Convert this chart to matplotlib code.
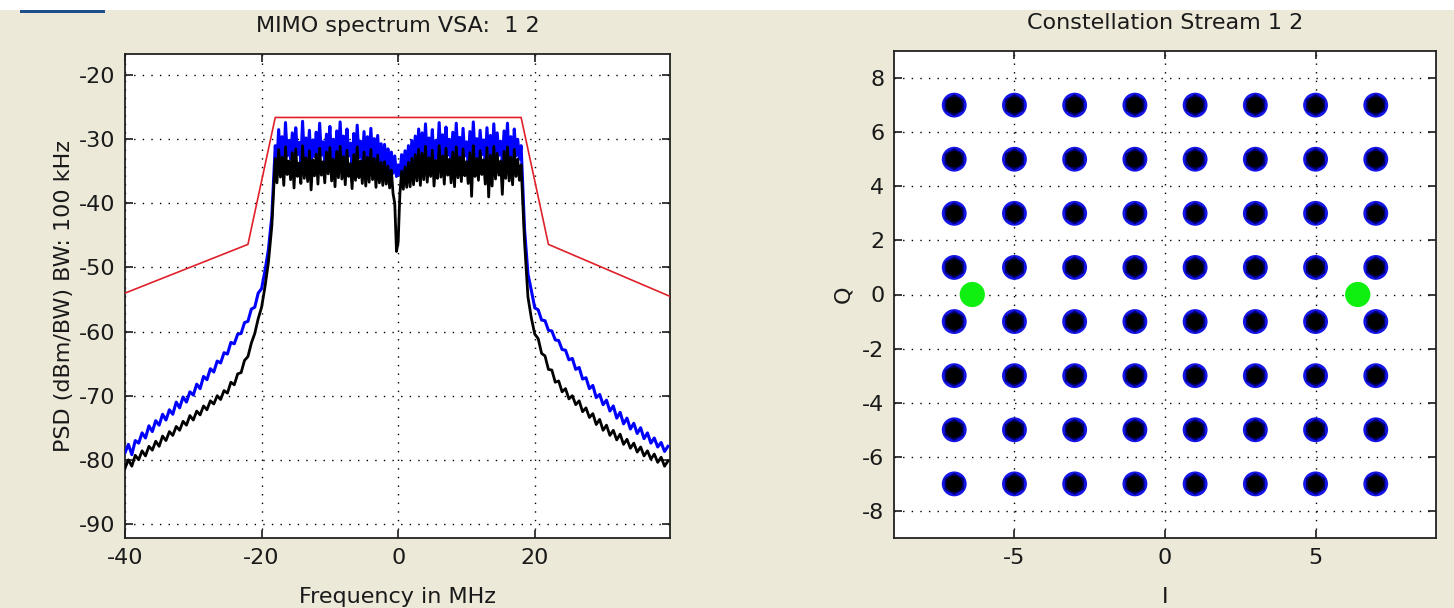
import numpy as np
import matplotlib
matplotlib.use("Agg")
import matplotlib.pyplot as plt
from matplotlib.patches import Rectangle

# ---------------- data ----------------
# spectral mask (MHz, dBm)
mask_freq = [-40, -22, -18, 18, 22, 40]
mask_psd = [-54.0, -46.4, -26.6, -26.6, -46.4, -54.6]

# frequency grids (MHz)
left_freq = np.arange(-40.0, -18.25, 0.5)      # 44 pts
pass_freq = np.arange(-18.0, 18.001, 0.25)     # 145 pts
right_freq = np.arange(18.5, 39.75, 0.5)       # 43 pts

blue_left = [-78.9, -77.6, -79.2, -77.0, -77.4, -75.8, -76.6, -74.7, -75.6, -73.9,
             -74.6, -72.9, -73.8, -72.2, -72.9, -71.0, -71.9, -70.2, -71.0, -69.4,
             -69.9, -68.2, -68.9, -67.0, -67.5, -65.8, -66.3, -64.6, -64.9, -63.3,
             -63.5, -61.7, -61.9, -60.4, -60.3, -58.6, -58.4, -56.5, -56.2, -54.0,
             -53.3, -50.5, -47.2, -42.0]
blue_pass = [-31.0, -33.5, -28.5, -32.8, -29.6, -33.9, -27.4, -32.6,
             -30.2, -33.1, -29.0, -34.0, -28.2, -32.4, -30.5, -33.6,
             -27.2, -32.9, -29.8, -33.3, -28.6, -34.2, -30.1, -32.7,
             -28.9, -33.8, -27.5, -32.5, -30.4, -33.7, -29.2, -32.1,
             -28.0, -33.4, -30.0, -34.1, -28.7, -32.8, -27.3, -33.0,
             -29.5, -33.9, -28.4, -32.6, -30.6, -34.3, -29.1, -33.2,
             -27.8, -32.9, -30.3, -33.7, -28.8, -34.0, -29.6, -33.5,
             -28.3, -33.1, -29.9, -34.4, -29.4, -33.8, -30.7, -34.6,
             -30.8, -34.2, -31.5, -35.0, -32.0, -35.3, -32.6, -35.8,
             -34.0,
             -35.6, -32.4, -35.2, -31.8, -34.9, -31.0, -34.5, -30.2,
             -34.1, -29.5, -33.6, -28.4, -34.0, -29.0, -33.2, -27.6,
             -33.5, -29.8, -32.7, -28.5, -34.1, -30.2, -33.0, -27.4,
             -32.8, -29.3, -33.9, -28.1, -32.5, -30.0, -33.6, -28.9,
             -34.2, -27.5, -32.9, -29.7, -33.4, -28.3, -32.6, -30.4,
             -33.8, -28.8, -34.0, -27.3, -32.7, -29.9, -33.3, -28.6,
             -32.4, -30.1, -33.9, -28.2, -32.8, -29.4, -34.1, -27.6,
             -33.0, -29.0, -32.5, -30.3, -33.7, -28.7, -32.9, -27.5,
             -33.3, -29.6, -34.0, -28.4, -32.6, -30.0, -33.1, -31.0]
blue_right = [-44.0, -51.0, -53.6, -56.3, -56.6, -58.2, -58.3, -59.8, -59.9, -61.3,
              -61.4, -62.8, -62.9, -64.4, -64.2, -65.9, -65.6, -67.4, -67.2, -68.9,
              -68.4, -70.3, -69.8, -71.4, -70.7, -72.4, -71.6, -73.5, -72.6, -74.4,
              -73.5, -75.2, -74.3, -75.9, -75.0, -76.7, -75.8, -77.4, -76.6, -78.0,
              -77.3, -78.7, -77.9]

black_left = [-81.3, -80.0, -81.0, -79.3, -80.0, -78.6, -79.4, -77.9, -78.5, -77.1,
              -77.9, -76.3, -77.0, -75.6, -76.2, -74.8, -75.4, -74.0, -74.6, -73.1,
              -73.8, -72.4, -73.0, -71.6, -72.2, -70.8, -71.3, -70.0, -70.6, -69.2,
              -69.6, -67.9, -68.3, -66.6, -66.4, -64.5, -63.9, -61.8, -60.3, -58.0,
              -56.2, -53.0, -49.2, -43.5]
black_pass = [-33.0, -36.8, -31.6, -35.9, -32.8, -37.2, -31.2, -35.5,
              -33.4, -36.3, -32.1, -37.6, -31.5, -35.8, -33.7, -36.9,
              -31.0, -36.1, -32.9, -36.6, -31.8, -37.9, -33.2, -35.7,
              -32.3, -37.0, -31.4, -35.6, -33.5, -36.8, -32.0, -35.4,
              -31.3, -36.5, -33.1, -37.4, -31.9, -36.0, -31.1, -36.2,
              -32.7, -37.1, -31.7, -35.8, -33.8, -37.7, -32.4, -36.4,
              -31.2, -36.0, -33.4, -36.9, -32.0, -37.3, -32.8, -36.7,
              -31.6, -36.3, -33.0, -37.5, -32.5, -36.8, -33.6, -37.2,
              -33.5, -37.0, -34.2, -37.6, -34.8, -38.5, -40.0, -47.5,
              -46.0,
              -38.5, -35.0, -37.8, -34.3, -37.5, -33.6, -37.4, -33.0,
              -37.1, -32.4, -36.5, -31.6, -37.2, -32.2, -36.3, -31.1,
              -36.7, -32.9, -35.8, -31.7, -37.3, -33.3, -36.1, -31.0,
              -35.9, -32.6, -37.0, -31.4, -35.6, -33.1, -36.8, -32.0,
              -37.4, -31.2, -36.0, -32.8, -36.6, -31.5, -35.7, -33.5,
              -36.9, -32.1, -38.9, -31.0, -35.8, -33.0, -36.4, -31.8,
              -35.5, -33.2, -37.0, -31.3, -39.0, -32.5, -37.3, -31.1,
              -36.2, -32.2, -35.6, -33.4, -38.6, -31.9, -36.1, -31.2,
              -36.5, -32.8, -37.1, -31.6, -35.8, -33.1, -36.4, -34.0]
black_right = [-46.0, -54.6, -57.9, -60.4, -61.1, -63.4, -63.8, -65.9, -66.0, -67.9,
               -67.7, -69.4, -68.9, -70.5, -70.0, -71.4, -70.8, -72.5, -71.9, -73.4,
               -72.8, -74.5, -73.7, -75.4, -74.6, -76.2, -75.4, -76.9, -76.0, -77.6,
               -76.8, -78.2, -77.4, -78.8, -78.0, -79.4, -78.6, -79.9, -79.1, -80.4,
               -79.6, -81.0, -80.2]

# constellation (64-QAM levels) and pilots
qam_levels = [-7, -5, -3, -1, 1, 3, 5, 7]
pilot_I = [-6.4, 6.4]
pilot_Q = [0.0, 0.0]

# ---------------- style ----------------
BG = "#ECE9D8"
FONT = "DejaVu Sans"
FS = 16
TXT = "#1a1a1a"
plt.rcParams["font.family"] = [FONT]
plt.rcParams["axes.unicode_minus"] = False

fig = plt.figure(figsize=(14.54, 6.08), dpi=100, facecolor=BG)

# white strip and blue bar at top (window chrome)
fig.patches.append(Rectangle((0, 1 - 10 / 608), 1, 10 / 608, transform=fig.transFigure,
                             facecolor="white", edgecolor="none", zorder=0))
fig.patches.append(Rectangle((20 / 1454, 1 - 13 / 608), 85 / 1454, 3 / 608,
                             transform=fig.transFigure, facecolor="#1f4e8c",
                             edgecolor="none", zorder=1))

grid_kw = dict(color="black", linestyle=(0, (1, 5.2)), linewidth=1.0)


def style_axes(ax):
    ax.set_facecolor("white")
    for s in ax.spines.values():
        s.set_linewidth(1.3)
        s.set_color("#222222")
    ax.tick_params(direction="in", length=6, width=1.2, top=True, right=True,
                   labelsize=FS, colors=TXT, pad=7)
    ax.grid(True, **grid_kw)
    ax.set_axisbelow(True)


# ---------------- left: spectrum ----------------
ax1 = fig.add_axes([125 / 1454, 1 - 538 / 608, 545 / 1454, 484 / 608])
style_axes(ax1)
freq = np.concatenate([left_freq, pass_freq, right_freq])
blue = np.concatenate([blue_left, blue_pass, blue_right])
black = np.concatenate([black_left, black_pass, black_right])
ax1.plot(freq, blue, color="#0000ff", linewidth=2.2, zorder=3)
ax1.plot(freq, black, color="black", linewidth=2.0, zorder=4)
ax1.plot(mask_freq, mask_psd, color="#e0202a", linewidth=1.2, zorder=5)
ax1.set_xlim(-40, 39.8)
ax1.set_ylim(-92.2, -16.7)
ax1.set_xticks([-40, -20, 0, 20])
ax1.set_yticks([-90, -80, -70, -60, -50, -40, -30, -20])
ax1.set_title("MIMO spectrum VSA:  1 2", fontsize=FS, pad=16, color=TXT)
ax1.set_xlabel("Frequency in MHz", fontsize=FS, color=TXT, labelpad=14)
ax1.set_ylabel("PSD (dBm/BW) BW: 100 kHz", fontsize=FS, color=TXT, labelpad=3)

# ---------------- right: constellation ----------------
ax2 = fig.add_axes([894 / 1454, 1 - 538 / 608, 542 / 1454, 487 / 608])
style_axes(ax2)
gi, gq = np.meshgrid(qam_levels, qam_levels)
ax2.scatter(gi.ravel(), gq.ravel(), s=320, marker="o", color="#1515e8",
            edgecolors="none", zorder=3)
ax2.scatter(gi.ravel(), gq.ravel(), s=250, marker="h", color="#00006a",
            edgecolors="none", zorder=4)
ax2.scatter(gi.ravel(), gq.ravel(), s=140, marker="o", color="black",
            edgecolors="none", zorder=5)
ax2.scatter(pilot_I, pilot_Q, s=330, marker="o", color="#10f010",
            edgecolors="none", zorder=6)
ax2.set_xlim(-9, 9)
ax2.set_ylim(-9, 9)
ax2.set_xticks([-5, 0, 5])
ax2.set_yticks([-8, -6, -4, -2, 0, 2, 4, 6, 8])
ax2.set_title("Constellation Stream 1 2", fontsize=FS, pad=16, color=TXT)
ax2.set_xlabel("I", fontsize=FS, color=TXT, labelpad=14)
ax2.set_ylabel("Q", fontsize=FS, color=TXT, labelpad=6)

fig.savefig("out.png", dpi=100, facecolor=BG)
